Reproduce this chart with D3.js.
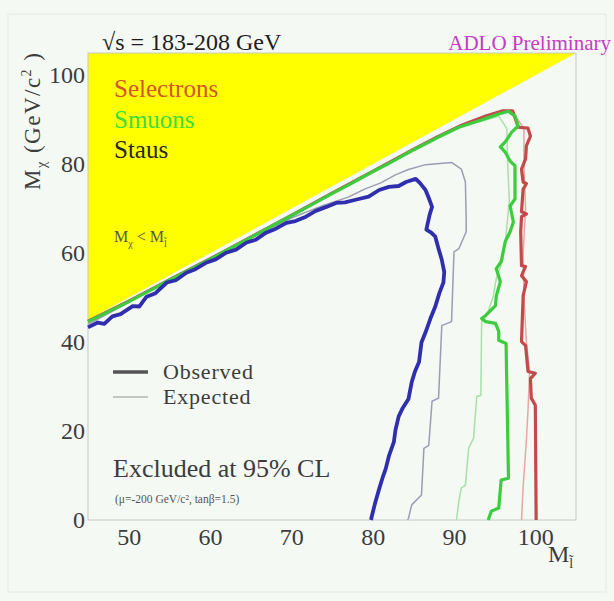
<!DOCTYPE html>
<html>
<head>
<meta charset="utf-8">
<script src="https://cdn.jsdelivr.net/npm/d3@7"></script>
<style>
  html, body { margin: 0; padding: 0; background: #f4f9f4; }
  svg { display: block; }
  text { font-family: "Liberation Serif", "DejaVu Serif", serif; }
</style>
</head>
<body>
<svg id="chart" width="614" height="601"></svg>
<script>
// Axis ticks
const xTicks = [50, 60, 70, 80, 90, 100];
const yTicks = [0, 20, 40, 60, 80, 100];

// Kinematically forbidden region: M_chi > M_slepton
const forbidden = [[45, 45], [45, 105], [105, 105]];

// 95% CL exclusion contours [M_slepton, M_chi]
const stauObserved = [[45,43.3],[46.2,44.4],[47,44.1],[48,45.8],[49,46.3],[50.5,48.1],[51.3,48.0],[52.2,50.2],[53.3,51.0],[54.7,53.4],[55.8,53.9],[57.1,55.6],[58.2,56.4],[59.6,57.9],[60.7,58.6],[62,60.1],[63.2,60.8],[64.5,62.4],[65.6,63.0],[66.9,64.6],[68.1,65.5],[69.4,66.8],[70.5,67.2],[71.8,68.2],[73,69.5],[74.3,70.4],[75.5,71.3],[76.6,71.4],[77.9,72.0],[79.5,72.7],[80.8,74.2],[82,74.9],[83.2,75.1],[84.1,76.0],[85.3,76.7],[85.8,75.8],[86.5,74.2],[86.9,72.4],[87.3,70.4],[87.0,68.6],[86.6,65.3],[87.2,64.6],[87.7,63.7],[88.1,61.0],[88.5,58.5],[88.8,55.8],[88.7,53.4],[88.2,51.0],[87.7,48.0],[87.1,45.3],[86.5,42.2],[86.0,39.9],[85.7,35.5],[85.2,33.4],[84.8,31.0],[84.4,27.2],[83.7,25.2],[83.2,23.3],[82.8,20.2],[82.6,17.5],[82.0,14.4],[81.6,11.5],[81.2,9.4],[80.8,7.0],[80.3,3.8],[79.9,0.9],[79.8,0]];
const stauExpected = [[45,44.0],[50,48.9],[55,54.2],[60,58.9],[65,63.4],[70,67.9],[74,70.8],[77,72.6],[79,74.4],[81,75.8],[82.8,77.6],[84.4,78.8],[86.5,79.9],[89.7,80.4],[90.9,78.9],[91.4,76.0],[91.5,67.7],[91.5,64.8],[90.6,61.0],[90.0,60.3],[89.7,44.6],[88.5,43.7],[88.1,27.4],[87.3,26.7],[86.9,16.8],[86.3,16.1],[86.0,5.6],[84.8,3.4],[84.4,0.4],[84.3,0]];
const smuonObserved = [[45,44.6],[47,46.4],[50,49.1],[52,51.0],[55,53.9],[57,55.8],[60,58.6],[62,60.6],[65,63.5],[67,65.5],[70,68.4],[72,70.4],[75,73.4],[77,75.3],[80,78.3],[82,80.2],[85,83.2],[88.1,86.1],[90.6,88.3],[93,89.7],[95.5,91.3],[96.7,91.9],[97.5,90.8],[97.9,88.6],[97.1,87.2],[96.3,85.0],[95.7,83.9],[96.3,82.7],[96.9,80.7],[97.5,79.6],[97.5,72.2],[96.9,70.6],[97.3,67.0],[96.9,64.8],[96.3,62.6],[95.8,58.1],[95.2,56.5],[95.7,53.6],[95.2,50.4],[95.1,48.2],[93.9,46.0],[93.4,45.3],[93.9,44.6],[95.1,44.2],[95.5,42.4],[95.5,40.4],[96.4,39.7],[96.7,9.4],[95.8,9.0],[95.5,2.7],[94.6,2.0],[94.2,0]];
const smuonExpected = [[93,89.5],[95.5,90.8],[96.5,88],[96.6,80],[96.8,72],[96.4,64],[96.0,58.5],[95.2,54.3],[94.8,50],[94.2,46.9],[93.4,44.6],[93.3,28.0],[92.8,27.8],[92.4,18.4],[91.8,16.1],[91.4,7.8],[90.9,7.2],[90.6,4.3],[90.3,0]];
const selectronObserved = [[45,44.7],[50,49.2],[55,54.0],[60,58.7],[65,63.6],[70,68.5],[75,73.5],[80,78.4],[85,83.3],[88,86.2],[91,88.8],[94,90.9],[96,92.0],[97.2,92.0],[97.9,88.3],[99.1,88.1],[99.4,86.3],[98.9,84.1],[98.8,81.2],[98.3,78.9],[98.5,76.0],[98.9,75.6],[98.5,74.4],[98.3,69.3],[98.9,68.8],[98.3,68.2],[98.2,64.8],[98.3,57.2],[98.8,57.0],[98.3,54.9],[98.9,53.6],[98.5,50.4],[98.3,40.1],[98.8,39.2],[99.1,33.4],[100.0,33.0],[99.4,31.8],[99.5,27.4],[100.0,25.8],[100.1,0]];
const selectronExpected = [[97.5,91],[98.6,88],[98.6,80],[98.8,70],[98.5,60],[98.6,50],[98.9,40],[99.3,33.5],[99.1,24.7],[98.9,18],[98.5,7.4],[98.3,0]];

const svg = d3.select("#chart");
const margin = { left: 88, right: 576, top: 53, bottom: 520 };

const x = d3.scaleLinear().domain([45, 105]).range([margin.left, margin.right]);
const y = d3.scaleLinear().domain([0, 105]).range([margin.bottom, margin.top]);

// faint outer border
svg.append("rect")
  .attr("x", 8).attr("y", 14).attr("width", 598).attr("height", 578)
  .attr("fill", "none").attr("stroke", "#e3e9e3").attr("stroke-width", 1);

// forbidden triangle
svg.append("path")
  .attr("d", d3.line().x(d => x(d[0])).y(d => y(d[1]))(forbidden) + "Z")
  .attr("fill", "#ffff00");

// frame
svg.append("rect")
  .attr("x", margin.left).attr("y", margin.top)
  .attr("width", margin.right - margin.left).attr("height", margin.bottom - margin.top)
  .attr("fill", "none").attr("stroke", "#c6c9c6").attr("stroke-width", 1);

const line = d3.line().x(d => x(d[0])).y(d => y(d[1]));

const curves = [
  { data: stauExpected, color: "#9c9cb4", width: 1.5 },
  { data: smuonExpected, color: "#a6e2a6", width: 1.5 },
  { data: selectronExpected, color: "#e8a6a6", width: 1.5 },
  { data: selectronObserved, color: "#c24a4a", width: 3.2 },
  { data: smuonObserved, color: "#3ccc3c", width: 3.2 },
  { data: stauObserved, color: "#2f2fae", width: 3.8 }
];
svg.append("g").selectAll("path").data(curves).join("path")
  .attr("d", d => line(d.data))
  .attr("fill", "none")
  .attr("stroke", d => d.color)
  .attr("stroke-width", d => d.width)
  .attr("stroke-linejoin", "round");

// axes
const xAxis = d3.axisBottom(x).tickValues(xTicks).tickSize(0).tickPadding(8);
const gx = svg.append("g").attr("transform", `translate(0,${margin.bottom})`).call(xAxis);
gx.select(".domain").remove();
gx.selectAll("text").attr("font-size", 24).attr("fill", "#3c3c3c")
  .attr("font-family", "Liberation Serif, serif");

const yAxis = d3.axisLeft(y).tickValues(yTicks).tickSize(0).tickPadding(3);
const gy = svg.append("g").attr("transform", `translate(${margin.left},0)`).call(yAxis);
gy.select(".domain").remove();
gy.selectAll("text").attr("font-size", 24).attr("fill", "#3c3c3c")
  .attr("font-family", "Liberation Serif, serif");

// axis titles
const yt = svg.append("text")
  .attr("transform", "translate(40,190) rotate(-90)")
  .attr("font-size", 23).attr("fill", "#3c3c3c").attr("letter-spacing", 1.5);
yt.append("tspan").text("M");
yt.append("tspan").attr("font-size", 14).attr("dy", 6).text("χ");
yt.append("tspan").attr("dy", -6).text("  (GeV/c");
yt.append("tspan").attr("font-size", 14).attr("dy", -9).text("2");
yt.append("tspan").attr("dy", 9).text(" )");

const xt = svg.append("text").attr("x", 548).attr("y", 562)
  .attr("font-size", 24).attr("fill", "#3c3c3c");
xt.append("tspan").text("M");
xt.append("tspan").attr("font-size", 14).attr("dy", 6).text("l̃");

// header
svg.append("text").attr("x", 102).attr("y", 50)
  .attr("font-size", 24).attr("fill", "#1e1e1e").text("√s = 183-208 GeV");
svg.append("text").attr("x", 611).attr("y", 50).attr("text-anchor", "end")
  .attr("font-size", 21).attr("fill", "#c43cc4").text("ADLO Preliminary");

// species labels
const species = [
  { name: "Selectrons", color: "#d2552c", y: 97 },
  { name: "Smuons", color: "#3fdc3f", y: 128 },
  { name: "Staus", color: "#262626", y: 158 }
];
svg.append("g").selectAll("text").data(species).join("text")
  .attr("x", 114).attr("y", d => d.y)
  .attr("font-size", 25).attr("fill", d => d.color)
  .text(d => d.name);

const mm = svg.append("text").attr("x", 114).attr("y", 242)
  .attr("font-size", 16).attr("fill", "#555");
mm.append("tspan").text("M");
mm.append("tspan").attr("font-size", 10).attr("dy", 5).text("χ");
mm.append("tspan").attr("dy", -5).text(" < M");
mm.append("tspan").attr("font-size", 10).attr("dy", 5).text("l̃");

// line-style legend
const styles = [
  { label: "Observed", color: "#555", width: 3.5, y: 372 },
  { label: "Expected", color: "#b4b4b4", width: 1.5, y: 397 }
];
const lg = svg.append("g").selectAll("g").data(styles).join("g");
lg.append("line")
  .attr("x1", 113).attr("x2", 148)
  .attr("y1", d => d.y).attr("y2", d => d.y)
  .attr("stroke", d => d.color).attr("stroke-width", d => d.width);
lg.append("text")
  .attr("x", 163).attr("y", d => d.y + 7)
  .attr("font-size", 22).attr("fill", "#3c3c3c")
  .attr("letter-spacing", 0.8)
  .text(d => d.label);

svg.append("text").attr("x", 113).attr("y", 477)
  .attr("font-size", 26).attr("fill", "#3c3c3c").text("Excluded at 95% CL");
svg.append("text").attr("x", 115).attr("y", 503)
  .attr("font-size", 11.5).attr("fill", "#555")
  .text("(μ=-200 GeV/c², tanβ=1.5)");
</script>
</body>
</html>
